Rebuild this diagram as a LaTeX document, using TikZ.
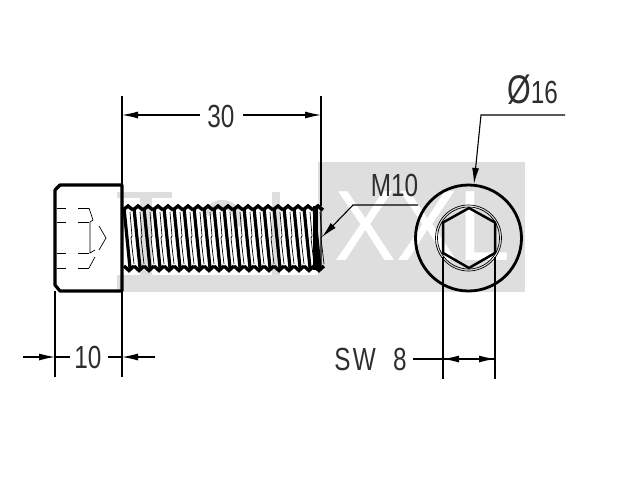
\documentclass[tikz,border=0pt]{standalone}
\usepackage{fontspec}
\setmainfont{Liberation Sans}
\usetikzlibrary{arrows.meta}
\definecolor{wmgray}{gray}{0.87}
\tikzset{
	dim/.style={line width=1.1pt},
	dimtip/.style={line width=1.1pt,-{Latex[length=16pt,width=7pt]}},
	outline/.style={line width=3.2pt},
	thinline/.style={line width=0.7pt},
	dimtext/.style={font=\fontsize{32}{34}\selectfont,inner sep=0pt,text=black!82,xscale=.76,transform shape},
	wmtext/.style={font=\fontsize{100}{100}\selectfont,inner sep=0pt,text=white,xscale=.93,transform shape}
}
\begin{document}
\begin{tikzpicture}[x=1pt,y=-1pt]
	\useasboundingbox (0,0) rectangle (640,480);

	% watermark
	\fill[wmgray] (318,162) rectangle (525,292);
	\fill[wmgray] (117,275) rectangle (318,292);
	\fill[wmgray] (117,192) rectangle (172,198);
	\fill[wmgray] (140,198) rectangle (152,275);
	\fill[wmgray] (272,192) rectangle (280,275);
	\draw[wmgray,line width=9pt] (207,215) arc (20:200:-16);
	\node[wmtext] (xxl) at (422,226) {XXL};

	% screw head
	\draw[outline,line join=round] (122,185) -- (60,185) -- (55,190) -- (55,285) -- (60,291) -- (122,291) -- cycle;

	% socket
	\foreach \y in {208,222,253,268} {
		\draw[thinline] (57,\y) -- (66,\y);
		\draw[thinline] (78,\y) -- (89,\y);
	}
	\draw[thinline] (89,208) -- (93,220) -- (90,222) -- (90,253) -- (95,250);
	\draw[thinline] (89,268) -- (95,257);
	\draw[thinline] (99,226) -- (106,238) -- (99,250);

	% thread
	\foreach \i in {0,...,19} {
		\draw[line width=3.2pt] ({124+\i*10},208) -- ({130+\i*10},268);
		\draw[thinline] ({130+\i*10},212) -- ({132+\i*10},236) -- ({131+\i*10},238) -- ({134+\i*10},264);
		\draw[line width=3.4pt] ({123+\i*10},210) -- ({128+\i*10},206) -- ({133+\i*10},210);
		\draw[line width=3.4pt] ({124+\i*10},266) -- ({129+\i*10},270.5) -- ({134+\i*10},266);
	}
	\draw[line width=5pt] (315,206) -- (315,270);
	\draw[line width=1.3pt] (316,205) -- (321,210) -- (321,265) -- (316,270);

	% front view
	\coordinate (ctr) at (468.5,238);
	\draw[line width=2.8pt] (ctr) circle (53);
	\draw[thinline] (ctr) circle (33);
	\draw[thinline] (ctr) circle (31);
	\draw[line width=2.5pt,line join=round] (469,208) -- (495,222.5) -- (495,253) -- (469,268) -- (443,253) -- (443,222.5) -- cycle;

	% 30
	\coordinate (ext30a) at (122,96);
	\coordinate (ext30b) at (321,96);
	\coordinate (head30) at (122,185);
	\coordinate (end30) at (321,206);
	\draw[dim] (ext30a) -- (head30);
	\draw[dim] (ext30b) -- (end30);
	\node[dimtext] (l30) at (221,116) {30};
	\coordinate (l30a) at (200,115);
	\coordinate (l30b) at (243,115);
	\coordinate (tip30a) at (122,115);
	\coordinate (tip30b) at (321,115);
	\draw[dimtip] (l30a) -- (tip30a);
	\draw[dimtip] (l30b) -- (tip30b);

	% 10
	\coordinate (head10a) at (55,291);
	\coordinate (head10b) at (122,291);
	\coordinate (ext10a) at (55,377);
	\coordinate (ext10b) at (122,377);
	\draw[dim] (head10a) -- (ext10a);
	\draw[dim] (head10b) -- (ext10b);
	\node[dimtext] (l10) at (88,357) {10};
	\coordinate (l10a) at (23,357);
	\coordinate (l10b) at (155,357);
	\coordinate (l10c) at (70,357);
	\coordinate (l10d) at (108,357);
	\coordinate (tip10a) at (55,357);
	\coordinate (tip10b) at (122,357);
	\draw[dim] (tip10a) -- (l10c);
	\draw[dim] (l10d) -- (tip10b);
	\draw[dimtip] (l10a) -- (tip10a);
	\draw[dimtip] (l10b) -- (tip10b);

	% M10 leader
	\node[dimtext] (m10) at (394.5,185.5) {M10};
	\coordinate (m10a) at (418,205);
	\coordinate (m10b) at (353,205);
	\coordinate (m10c) at (322,237);
	\draw[dimtip] (m10a) -- (m10b) -- (m10c);

	% diameter leader
	\node[dimtext] (d16) at (532.5,90) {{\fontsize{40}{40}\selectfont Ø}16};
	\coordinate (d16a) at (565,115);
	\coordinate (d16b) at (481,115);
	\coordinate (d16c) at (474,184);
	\draw[dimtip] (d16a) -- (d16b) -- (d16c);

	% across flats
	\coordinate (flata) at (443,257);
	\coordinate (flatb) at (495,257);
	\coordinate (swa) at (443,379);
	\coordinate (swb) at (495,379);
	\draw[dim] (flata) -- (swa);
	\draw[dim] (flatb) -- (swb);
	\node[dimtext] (sw) at (370.5,359) {S\kern3pt W\kern5pt\ \ 8};
	\coordinate (swl) at (413,359);
	\coordinate (swm) at (469,359);
	\coordinate (tipa) at (443,359);
	\coordinate (tipb) at (495,359);
	\draw[dim] (swl) -- (tipb);
	\draw[dimtip] (swm) -- (tipa);
	\draw[dimtip] (swm) -- (tipb);
\end{tikzpicture}
\end{document}
